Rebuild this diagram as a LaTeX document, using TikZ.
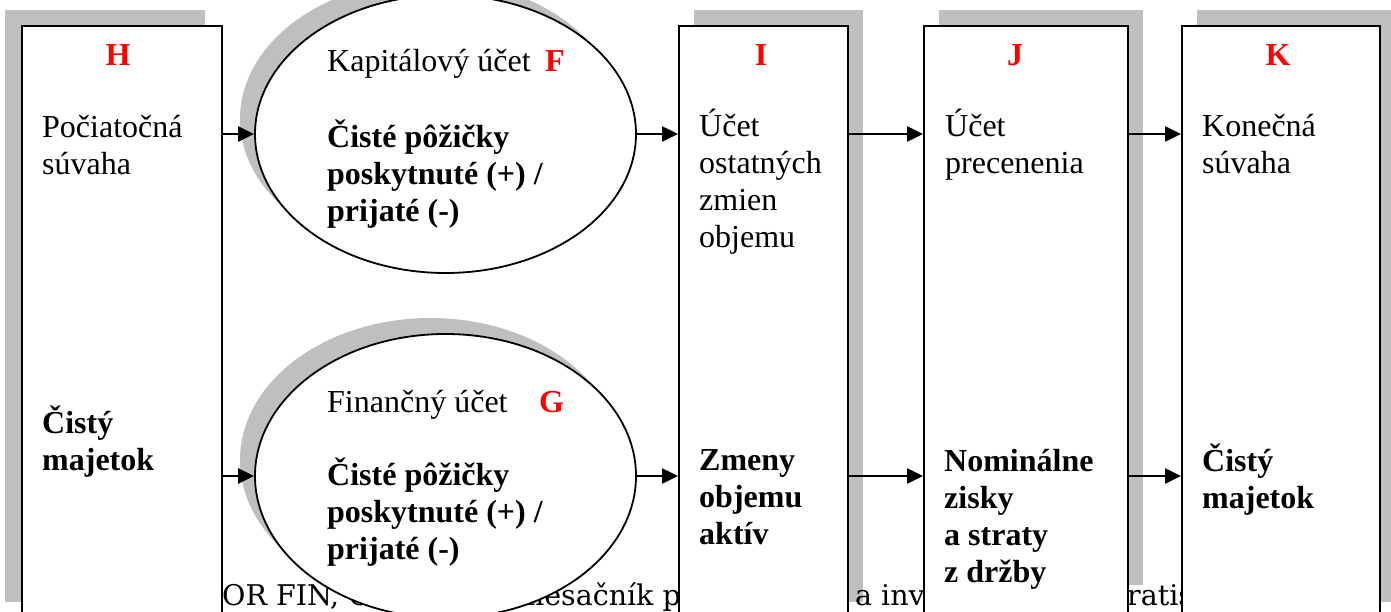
\documentclass[tikz,border=0pt]{standalone}
\usepackage{fontspec}
\setmainfont{Liberation Serif}
\newfontfamily\bgfont{DejaVu Serif}
\usetikzlibrary{shapes.geometric,arrows.meta}
\newcommand{\ml}[1]{\begin{tabular}[t]{@{}l@{}}#1\end{tabular}}
\tikzset{
  shadowc/.style={fill=black!25, draw=none},
  boxc/.style={rectangle, draw, line width=1.8pt, fill=white, inner sep=0pt, anchor=north west, minimum height=592pt},
  ell/.style={ellipse, draw, line width=1.8pt, fill=white, minimum width=381pt, inner sep=0pt},
  lbl/.style={anchor=base west, inner sep=0pt, font=\fontsize{32}{37}\selectfont},
  blbl/.style={anchor=base west, inner sep=0pt, font=\fontsize{32}{37}\selectfont\bfseries},
  letter/.style={anchor=base, inner sep=0pt, text=red, font=\fontsize{32}{37}\selectfont\bfseries},
  letterw/.style={anchor=base west, inner sep=0pt, text=red, font=\fontsize{32}{37}\selectfont\bfseries},
  arr/.style={line width=2.5pt, -{Triangle[length=16pt,width=15pt]}},
  bgtext/.style={inner sep=0pt, font=\bgfont\fontsize{28.5}{34}\selectfont},
}
\begin{document}
\begin{tikzpicture}[x=1pt,y=-1pt]
\useasboundingbox (0,0) rectangle (1391,612);
% shadows
\fill[shadowc] (5,10) rectangle (205,602);
\fill[shadowc] (694,10) rectangle (863,602);
\fill[shadowc] (939,10) rectangle (1143,585);
\fill[shadowc] (1197,10) rectangle (1395,602);
\fill[shadowc] (430.5,119) ellipse [x radius=190.5pt, y radius=139pt];
\fill[shadowc] (430.5,460) ellipse [x radius=190.5pt, y radius=142pt];
% background text line (partly hidden)
\node[bgtext, anchor=base west] (t1) at (222,605) {OR FIN, O};
\node[bgtext, anchor=base east] (t2) at (681,605) {mesačník p};
\node[bgtext, anchor=base west] (t3) at (855,605) {a inv};
\node[bgtext, anchor=base west] (t4) at (1127,605) {ratis};
% boxes
\node[boxc, minimum width=200pt] (H) at (21,25) {};
\node[boxc, minimum width=169pt] (I) at (678,25) {};
\node[boxc, minimum width=204pt] (J) at (923,25) {};
\node[boxc, minimum width=198pt] (K) at (1181,25) {};
% ellipses
\node[ell, minimum height=278pt] (F) at (445.5,134) {};
\node[ell, minimum height=284pt] (G) at (445.5,476) {};
% texts H
\node[letter] (Hl) at (118,66) {H};
\node[lbl] (Ht) at (42,138) {\ml{Počiatočná\\súvaha}};
\node[blbl] (Hb) at (42,433) {\ml{Čistý\\majetok}};
% texts F
\node[lbl] (Ft) at (327,72) {Kapitálový účet};
\node[letterw] (Fl) at (545,72) {F};
\node[blbl] (Fb) at (327,148) {\ml{Čisté pôžičky\\poskytnuté (+) /\\prijaté (-)}};
% texts G
\node[lbl] (Gt) at (327,412) {Finančný účet};
\node[letterw] (Gl) at (539,412) {G};
\node[blbl] (Gb) at (327,485) {\ml{Čisté pôžičky\\poskytnuté (+) /\\prijaté (-)}};
% texts I
\node[letter] (Il) at (761,66) {I};
\node[lbl] (It) at (699,137) {\ml{Účet\\ostatných\\zmien\\objemu}};
\node[blbl] (Ib) at (699,470) {\ml{Zmeny\\objemu\\aktív}};
% texts J
\node[letter] (Jl) at (1015,66) {J};
\node[lbl] (Jt) at (945,137) {\ml{Účet\\precenenia}};
\node[blbl] (Jb) at (944,471) {\ml{Nominálne\\zisky\\a straty\\z držby}};
% texts K
\node[letter] (Kl) at (1278,66) {K};
\node[lbl] (Kt) at (1202,137) {\ml{Konečná\\súvaha}};
\node[blbl] (Kb) at (1202,471) {\ml{Čistý\\majetok}};
% arrows top row
\draw[arr] (H.east |- F.west) -- (F.west);
\draw[arr] (F.east) -- (I.west |- F.east);
\draw[arr] (I.east |- F.east) -- (J.west |- F.east);
\draw[arr] (J.east |- F.east) -- (K.west |- F.east);
% arrows bottom row
\draw[arr] (H.east |- G.west) -- (G.west);
\draw[arr] (G.east) -- (I.west |- G.east);
\draw[arr] (I.east |- G.east) -- (J.west |- G.east);
\draw[arr] (J.east |- G.east) -- (K.west |- G.east);
\end{tikzpicture}
\end{document}
